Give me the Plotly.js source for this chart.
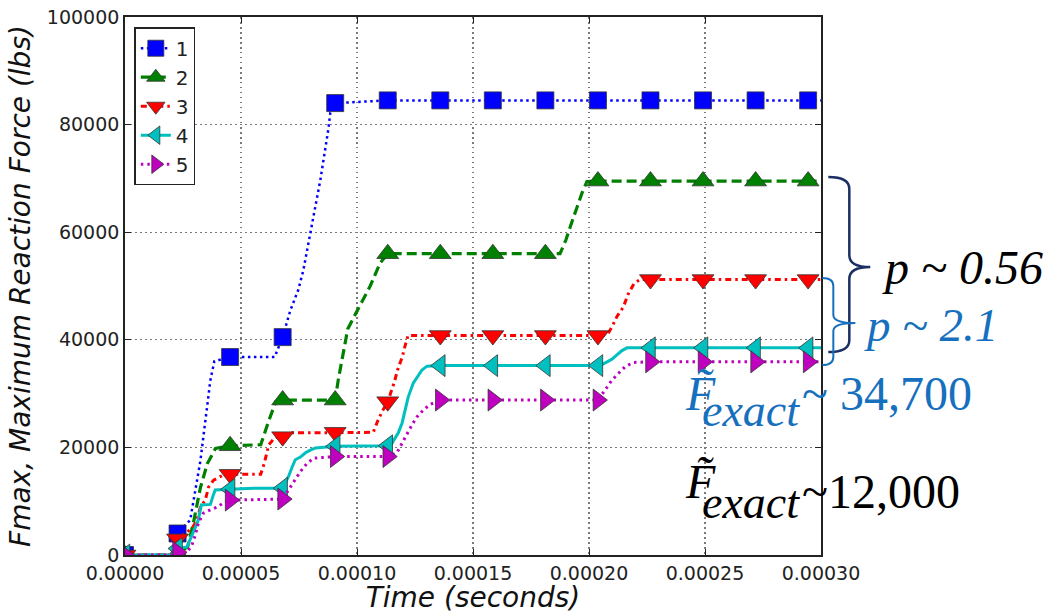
<!DOCTYPE html>
<html>
<head>
<meta charset="utf-8">
<script src="https://cdn.plot.ly/plotly-3.0.1.min.js"></script>
<style>
  html, body { margin: 0; padding: 0; background: #ffffff; }
  #chart { width: 1050px; height: 614px; }
</style>
</head>
<body>
<div id="chart"></div>
<script>
// Maximum reaction force histories for five mesh levels (time in seconds, force in lbs)
const seriesNames = ['1', '2', '3', '4', '5'];

// Sample times at which the markers are placed
const markerTime = [0, 2.265e-5, 4.53e-5, 6.795e-5, 9.06e-5, 11.325e-5, 13.59e-5,
  15.855e-5, 18.12e-5, 20.385e-5, 22.65e-5, 24.915e-5, 27.18e-5, 29.445e-5];

// Series 1
const time1 = [0, 2.0e-5, 2.265e-5, 2.81e-5, 3.25e-5, 3.46e-5, 3.68e-5, 3.85e-5, 4.53e-5,
  6.45e-5, 6.795e-5, 7.13e-5, 7.47e-5, 7.69e-5, 7.99e-5, 8.42e-5, 8.76e-5, 8.85e-5, 9.06e-5,
  11.325e-5, 30e-5];
const force1 = [0, 0, 4000, 6500, 17500, 25000, 32500, 36000, 36800,
  36800, 40500, 45500, 49300, 53000, 60000, 69700, 79000, 82200, 84000,
  84500, 84500];
const marker1 = [0, 4000, 36800, 40500, 84000, 84500, 84500, 84500, 84500, 84500, 84500, 84500, 84500, 84500];

// Series 2
const time2 = [0, 2.0e-5, 2.265e-5, 2.7e-5, 2.95e-5, 3.25e-5, 3.55e-5, 3.9e-5, 4.53e-5,
  5.85e-5, 6.2e-5, 6.5e-5, 6.795e-5, 9.06e-5, 9.19e-5, 9.41e-5, 9.6e-5, 9.9e-5, 10.14e-5,
  10.57e-5, 11.0e-5, 11.325e-5, 18.75e-5, 19.0e-5, 19.27e-5, 19.48e-5, 19.7e-5, 19.91e-5,
  20.385e-5, 30e-5];
const force2 = [0, 0, 300, 1500, 6000, 12500, 17000, 19800, 20300,
  20500, 25000, 28500, 28800, 28800, 32500, 38000, 42000, 44500, 46500,
  50000, 54300, 56000, 56000, 58500, 62000, 64700, 67300, 69400,
  69500, 69500];
const marker2 = [0, 300, 20300, 28800, 28800, 56000, 56000, 56000, 56000, 69500, 69500, 69500, 69500, 69500];

// Series 3
const time3 = [0, 2.0e-5, 2.265e-5, 2.9e-5, 3.1e-5, 3.25e-5, 3.46e-5, 3.6e-5, 3.82e-5, 4.2e-5,
  4.53e-5, 5.85e-5, 6.0e-5, 6.2e-5, 6.45e-5, 6.795e-5, 7.2e-5, 9.06e-5, 10.7e-5, 10.9e-5,
  11.1e-5, 11.325e-5, 11.6e-5, 11.75e-5, 11.95e-5, 12.08e-5, 12.2e-5, 20.385e-5, 20.8e-5,
  21.0e-5, 21.2e-5, 21.48e-5, 21.69e-5, 21.95e-5, 22.2e-5, 30e-5];
const force3 = [0, 0, 3000, 5000, 6500, 8900, 10200, 12600, 13900, 14800,
  15000, 15000, 17000, 20500, 21800, 22000, 22700, 22800, 22800, 25000,
  26800, 28500, 32000, 34400, 36800, 39000, 40800, 40800, 41000,
  42500, 44300, 46100, 48500, 50500, 51200, 51200];
const marker3 = [0, 3000, 15000, 22000, 22800, 28500, 40800, 40800, 40800, 40800, 51200, 51200, 51200, 51200];

// Series 4
const time4 = [0, 2.0e-5, 2.265e-5, 2.67e-5, 2.89e-5, 3.16e-5, 3.29e-5, 3.68e-5, 3.81e-5, 3.89e-5,
  4.53e-5, 5.53e-5, 6.795e-5, 7.04e-5, 7.21e-5, 7.34e-5, 7.56e-5, 7.78e-5, 7.99e-5, 8.21e-5,
  9.06e-5, 11.325e-5, 11.51e-5, 11.78e-5, 11.94e-5, 12.08e-5, 12.21e-5, 12.43e-5, 12.59e-5,
  12.8e-5, 13.02e-5, 13.59e-5, 20.385e-5, 20.6e-5, 20.78e-5, 20.99e-5, 21.13e-5, 21.28e-5,
  21.42e-5, 21.64e-5, 30e-5];
const force4 = [0, 0, 1200, 1500, 3700, 6500, 9300, 9400, 11200, 12100,
  12200, 12400, 12400, 14500, 16400, 17700, 18200, 19000, 19500, 19900,
  20200, 20300, 20800, 22700, 24500, 27000, 29400, 32000, 33100,
  34400, 35100, 35200, 35200, 35500, 35900, 36400, 36900, 37500,
  38000, 38500, 38500];
const marker4 = [0, 1200, 12200, 12400, 20200, 20300, 35200, 35200, 35200, 35200, 38500, 38500, 38500, 38500];

// Series 5
const time5 = [0, 2.0e-5, 2.265e-5, 2.7e-5, 2.89e-5, 3.03e-5, 3.16e-5, 3.38e-5, 3.68e-5, 3.98e-5,
  4.24e-5, 4.53e-5, 6.795e-5, 7.26e-5, 7.56e-5, 7.84e-5, 8.13e-5, 9.06e-5, 11.325e-5, 11.72e-5,
  11.94e-5, 12.16e-5, 12.37e-5, 12.59e-5, 12.87e-5, 13.16e-5, 13.59e-5, 20.385e-5, 20.71e-5,
  20.99e-5, 21.28e-5, 21.56e-5, 21.92e-5, 22.65e-5, 30e-5];
const force5 = [0, 0, 500, 600, 1900, 3700, 5900, 7800, 8400, 8900,
  9700, 10200, 10400, 13500, 15500, 17000, 18000, 18300, 18300, 19000,
  20800, 22700, 24200, 25700, 27000, 28000, 28800, 28800, 30700,
  32500, 33800, 35000, 35800, 35900, 35900];
const marker5 = [0, 500, 10200, 10400, 18300, 18300, 28800, 28800, 28800, 28800, 35900, 35900, 35900, 35900];

// Axis ticks
const xTicks = [0, 0.00005, 0.0001, 0.00015, 0.0002, 0.00025, 0.0003];
const yTicks = [0, 20000, 40000, 60000, 80000, 100000];

// Annotation labels on the right
const pLabelOuter = 'p ~ 0.56';
const pLabelInner = 'p ~ 2.1';
const fExactSymbol = 'F\u0303';
const fExactSub = 'exact';
const fExactBlue = '~ 34,700';
const fExactBlack = '~12,000';

const lineTimes = [time1, time2, time3, time4, time5];
const lineForces = [force1, force2, force3, force4, force5];
const markerForces = [marker1, marker2, marker3, marker4, marker5];

const styles = [
  { color: '#0000ff', dash: '2.5px,3.5px', width: 2.5, symbol: 'square', size: 17 },
  { color: '#008000', dash: '10px,5px', width: 3.2, symbol: 'triangle-up', size: 19 },
  { color: '#ff0000', dash: '6px,4px,2.5px,4px', width: 3, symbol: 'triangle-down', size: 19 },
  { color: '#00bfbf', dash: 'solid', width: 3, symbol: 'triangle-left', size: 19 },
  { color: '#bf00bf', dash: '2.5px,4px', width: 3, symbol: 'triangle-right', size: 19 }
];

const traces = [];
seriesNames.forEach((name, i) => {
  const st = styles[i];
  traces.push({
    type: 'scatter', mode: 'lines', x: lineTimes[i], y: lineForces[i],
    line: { color: st.color, width: st.width, dash: st.dash },
    showlegend: false, legendgroup: name, hoverinfo: 'skip'
  });
  traces.push({
    type: 'scatter', mode: 'markers', x: markerTime, y: markerForces[i],
    marker: { color: st.color, symbol: st.symbol, size: st.size, line: { color: '#333', width: 0.8 } },
    showlegend: false, legendgroup: name
  });
});
// Legend entries (line style + marker) for each series
seriesNames.forEach((name, i) => {
  const st = styles[i];
  traces.push({
    type: 'scatter', mode: 'lines+markers', x: [null], y: [null], name: name,
    legendgroup: name,
    line: { color: st.color, width: st.width, dash: st.dash },
    marker: { color: st.color, symbol: st.symbol, size: st.size, line: { color: '#333', width: 0.8 } }
  });
});

// Curly braces grouping the converged force values (paper coordinates)
function bracePath(x0, xv, xt, yTop, yMid, yBot, r) {
  return 'M' + x0 + ',' + yTop +
    ' Q' + xv + ',' + yTop + ' ' + xv + ',' + (yTop - r) +
    ' L' + xv + ',' + (yMid + r) +
    ' Q' + xv + ',' + yMid + ' ' + xt + ',' + yMid +
    ' Q' + xv + ',' + yMid + ' ' + xv + ',' + (yMid - r) +
    ' L' + xv + ',' + (yBot + r) +
    ' Q' + xv + ',' + yBot + ' ' + x0 + ',' + yBot;
}

const tickFont = { family: 'DejaVu Sans, sans-serif', size: 19, color: '#222' };
const titleFont = { family: 'DejaVu Sans, sans-serif', size: 28, color: '#111', style: 'italic' };
const serifBlue = '#1670be';

const layout = {
  width: 1050, height: 614,
  margin: { l: 125, r: 229, t: 17, b: 59 },
  paper_bgcolor: '#ffffff', plot_bgcolor: '#ffffff',
  showlegend: true,
  xaxis: {
    range: [0, 0.0003], tickvals: xTicks, tickformat: '.5f',
    showline: true, linecolor: '#222', linewidth: 1.8, mirror: 'allticks',
    ticks: 'inside', ticklen: 6, tickcolor: '#222',
    showgrid: true, gridcolor: '#7a7a7a', gridwidth: 1.2, griddash: '1.5px,3.5px',
    zeroline: false, tickfont: tickFont,
    title: { text: 'Time (seconds)', font: titleFont, standoff: 3 }
  },
  yaxis: {
    range: [0, 100000], tickvals: yTicks, tickformat: 'd',
    showline: true, linecolor: '#222', linewidth: 1.8, mirror: 'allticks',
    ticks: 'inside', ticklen: 6, tickcolor: '#222',
    showgrid: true, gridcolor: '#7a7a7a', gridwidth: 1.2, griddash: '1.5px,3.5px',
    zeroline: false, tickfont: tickFont,
    title: { text: 'Fmax, Maximum Reaction Force (lbs)', font: titleFont, standoff: 8 }
  },
  legend: {
    x: 0.0134, y: 0.981, xanchor: 'left', yanchor: 'top',
    bgcolor: '#ffffff', bordercolor: '#222', borderwidth: 1.5,
    font: { family: 'DejaVu Sans, sans-serif', size: 20, color: '#222' },
    traceorder: 'normal', itemwidth: 30
  },
  shapes: [
    { type: 'path', xref: 'paper', yref: 'paper', layer: 'above',
      path: bracePath(1.0105, 1.0407, 1.0708, 0.7026, 0.5353, 0.3773, 0.022),
      line: { color: '#1a2f63', width: 2.5 } },
    { type: 'path', xref: 'paper', yref: 'paper', layer: 'above',
      path: bracePath(1.0019, 1.0177, 1.0494, 0.5149, 0.4312, 0.3532, 0.015),
      line: { color: serifBlue, width: 2 } }
  ],
  annotations: [
    { xref: 'paper', yref: 'paper', x: 1.0852, y: 0.5335, xanchor: 'left', yanchor: 'middle',
      text: pLabelOuter, showarrow: false,
      font: { family: 'Liberation Serif, serif', size: 48, color: '#000', style: 'italic' } },
    { xref: 'paper', yref: 'paper', x: 1.0594, y: 0.4275, xanchor: 'left', yanchor: 'middle',
      text: pLabelInner, showarrow: false,
      font: { family: 'Liberation Serif, serif', size: 47, color: serifBlue, style: 'italic' } },
    // blue F-exact label
    { xref: 'paper', yref: 'paper', x: 0.8022, y: 0.301, xanchor: 'left', yanchor: 'middle',
      text: fExactSymbol, showarrow: false,
      font: { family: 'Liberation Serif, serif', size: 48, color: serifBlue, style: 'italic' } },
    { xref: 'paper', yref: 'paper', x: 0.8266, y: 0.268, xanchor: 'left', yanchor: 'middle',
      text: fExactSub, showarrow: false,
      font: { family: 'Liberation Serif, serif', size: 46, color: serifBlue, style: 'italic' } },
    { xref: 'paper', yref: 'paper', x: 0.9703, y: 0.301, xanchor: 'left', yanchor: 'middle',
      text: fExactBlue, showarrow: false,
      font: { family: 'Liberation Serif, serif', size: 48, color: serifBlue } },
    // black F-exact label
    { xref: 'paper', yref: 'paper', x: 0.8022, y: 0.136, xanchor: 'left', yanchor: 'middle',
      text: fExactSymbol, showarrow: false,
      font: { family: 'Liberation Serif, serif', size: 48, color: '#000', style: 'italic' } },
    { xref: 'paper', yref: 'paper', x: 0.8266, y: 0.098, xanchor: 'left', yanchor: 'middle',
      text: fExactSub, showarrow: false,
      font: { family: 'Liberation Serif, serif', size: 46, color: '#000', style: 'italic' } },
    { xref: 'paper', yref: 'paper', x: 0.9703, y: 0.118, xanchor: 'left', yanchor: 'middle',
      text: fExactBlack, showarrow: false,
      font: { family: 'Liberation Serif, serif', size: 48, color: '#000' } }
  ]
};

Plotly.newPlot('chart', traces, layout, { displayModeBar: false, staticPlot: true });
</script>
</body>
</html>
